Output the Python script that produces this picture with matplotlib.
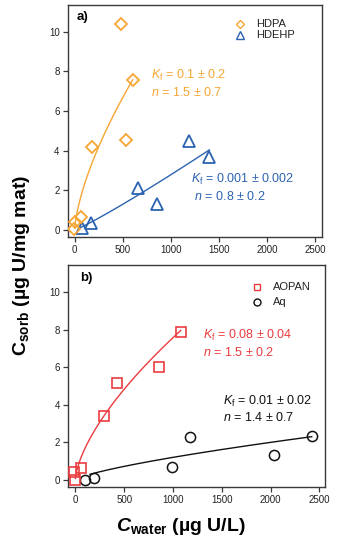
import numpy as np
import matplotlib
matplotlib.use("Agg")
import matplotlib.pyplot as plt

plt.rcParams['font.family'] = ['Liberation Sans', 'DejaVu Sans']
plt.rcParams['mathtext.fontset'] = 'custom'
plt.rcParams['mathtext.rm'] = 'Liberation Sans'
plt.rcParams['mathtext.it'] = 'Liberation Sans:italic'
plt.rcParams['mathtext.bf'] = 'Liberation Sans:bold'
plt.rcParams['mathtext.bfit'] = 'Liberation Sans:bold:italic'

# sorption data, C_water (ug U/L) vs C_sorb (ug U/mg mat)
hdpa_x = [-7, 3, 62, 180, 478, 533, 603]
hdpa_y = [0.03, 0.40, 0.68, 4.18, 10.39, 4.54, 7.56]
hdehp_x = [75, 166, 658, 858, 1185, 1399]
hdehp_y = [0.12, 0.36, 2.13, 1.31, 4.47, 3.67]
aopan_x = [-10, 0, 62, 297, 430, 861, 1080]
aopan_y = [0.41, 0.00, 0.62, 3.43, 5.15, 6.04, 7.90]
aq_x = [99, 195, 991, 1175, 2036, 2422]
aq_y = [0.02, 0.12, 0.71, 2.31, 1.35, 2.36]

# Freundlich fits q = K * C^b  (K, b, C start, C end)
fit_hdpa = [0.106, 0.667, 1, 603]
fit_hdehp = [0.0014, 1.10, 62, 1400]
fit_aopan = [0.085, 0.65, 1, 1080]
fit_aq = [0.0075, 0.735, 150, 2422]

lbl_hdpa = [r"$K_\mathregular{f}$ = 0.1 ± 0.2", r"$n$ = 1.5 ± 0.7"]
lbl_hdehp = [r"$K_\mathregular{f}$ = 0.001 ± 0.002", r" $n$ = 0.8 ± 0.2"]
lbl_aopan = [r"$K_\mathregular{f}$ = 0.08 ± 0.04", r"$n$ = 1.5 ± 0.2"]
lbl_aq = [r"$K_\mathregular{f}$ = 0.01 ± 0.02", r"$n$ = 1.4 ± 0.7"]

xticks = [0, 500, 1000, 1500, 2000, 2500]
yticks = [0, 2, 4, 6, 8, 10]

c_orange = '#F6A633'
c_blue = '#2C63B0'
c_red = '#EA3C3F'
c_black = '#111111'
frame = '#3a3a3a'


def fit_line(ax, p, color):
    xs = np.linspace(p[2], p[3], 200)
    ax.plot(xs, p[0] * xs ** p[1], color=color, lw=1.0, zorder=2)


def style(ax, xlim, ylim):
    ax.set_xlim(*xlim)
    ax.set_ylim(*ylim)
    ax.set_xticks(xticks)
    ax.set_yticks(yticks)
    ax.tick_params(direction='out', length=3.5, width=0.9, labelsize=7,
                   colors=frame, labelcolor='#222222', pad=2.5)
    for s in ax.spines.values():
        s.set_color(frame)
        s.set_linewidth(1.0)


def note(ax, x, y, lines, color, dy):
    ax.text(x, y, lines[0], color=color, fontsize=9, transform=ax.transAxes,
            va='center', ha='left')
    ax.text(x, y - dy, lines[1], color=color, fontsize=9, transform=ax.transAxes,
            va='center', ha='left')


def legend_row(ax, x, y, marker, ms, color, name):
    ax.plot([x], [y], marker=marker, ms=ms, mfc='none', mec=color, mew=1.0,
            transform=ax.transAxes, clip_on=False, ls='none')
    ax.text(x + 0.065, y, name, fontsize=8, color='#222222', transform=ax.transAxes,
            va='center', ha='left')


fig = plt.figure(figsize=(3.42, 5.43), dpi=100)

# panel a
ax1 = fig.add_axes([0.1988, 0.5635, 0.7427, 0.4273])
fit_line(ax1, fit_hdpa, c_orange)
fit_line(ax1, fit_hdehp, c_blue)
ax1.plot(hdehp_x, hdehp_y, ls='none', marker='^', ms=8.5, mfc='none',
         mec=c_blue, mew=1.3, zorder=3)
ax1.plot(hdpa_x, hdpa_y, ls='none', marker='D', ms=6.5, mfc='none',
         mec=c_orange, mew=1.3, zorder=3)
style(ax1, (-70, 2570), (-0.35, 11.35))
ax1.text(0.034, 0.95, 'a)', fontsize=9.5, fontweight='bold', transform=ax1.transAxes,
         va='center', ha='left')
legend_row(ax1, 0.677, 0.918, 'D', 4.3, c_orange, 'HDPA')
legend_row(ax1, 0.677, 0.872, '^', 5.6, c_blue, 'HDEHP')
note(ax1, 0.327, 0.696, lbl_hdpa, c_orange, 0.073)
note(ax1, 0.484, 0.246, lbl_hdehp, c_blue, 0.07)

# panel b
ax2 = fig.add_axes([0.1997, 0.1037, 0.7506, 0.4083])
fit_line(ax2, fit_aopan, c_red)
fit_line(ax2, fit_aq, c_black)
ax2.plot(aq_x, aq_y, ls='none', marker='o', ms=7.3, mfc='none',
         mec=c_black, mew=1.1, zorder=3)
ax2.plot(aopan_x, aopan_y, ls='none', marker='s', ms=7.9, mfc='none',
         mec=c_red, mew=1.2, zorder=3)
style(ax2, (-72, 2558), (-0.36, 11.45))
ax2.text(0.046, 0.941, 'b)', fontsize=9.5, fontweight='bold', transform=ax2.transAxes,
         va='center', ha='left')
legend_row(ax2, 0.734, 0.902, 's', 5.0, c_red, 'AOPAN')
legend_row(ax2, 0.734, 0.834, 'o', 5.0, c_black, 'Aq')
note(ax2, 0.526, 0.68, lbl_aopan, c_red, 0.076)
note(ax2, 0.601, 0.383, lbl_aq, c_black, 0.07)

fig.text(0.064, 0.512, r"$\mathbf{C}_\mathbf{sorb}$ (µg U/mg mat)", rotation=90,
         fontsize=14, fontweight='bold', va='center', ha='center')
fig.text(0.53, 0.03, r"$\mathbfit{C}_\mathbf{water}$ (µg U/L)",
         fontsize=14, fontweight='bold', va='center', ha='center')

fig.savefig('out.png', dpi=100)
